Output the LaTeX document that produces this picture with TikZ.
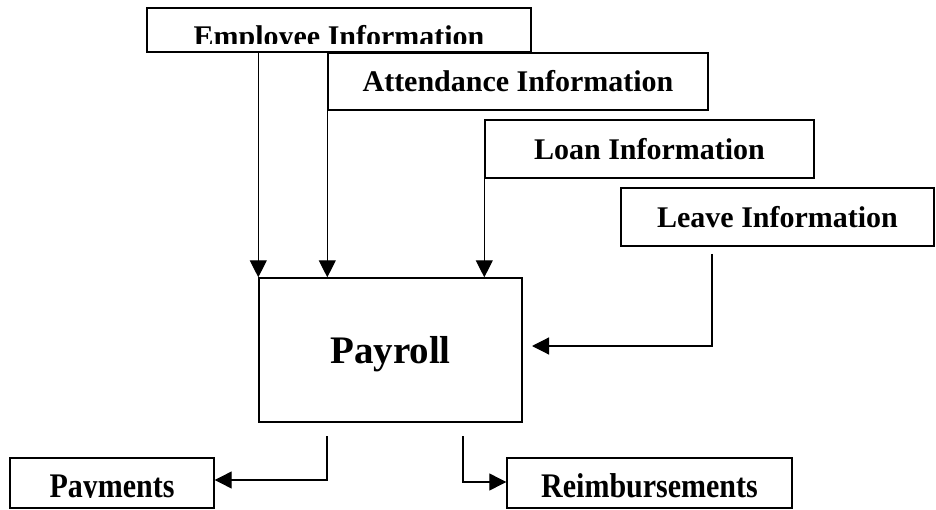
\documentclass[tikz,border=0pt]{standalone}
\usepackage{fontspec}
\setmainfont{Liberation Serif}
\usetikzlibrary{arrows.meta}

\begin{document}
\begin{tikzpicture}[x=1pt,y=-1pt,
  infobox/.style={draw,line width=1.4pt,fill=white,inner sep=0pt,
    font=\bfseries\fontsize{30}{32}\selectfont},
  label/.style={inner sep=0pt,anchor=base,font=\bfseries\fontsize{30}{32}\selectfont},
  arr/.style={line width=1.2pt,-{Triangle[length=17pt,width=17pt]}}]
  \useasboundingbox (0,0) rectangle (936,510);
  % input boxes
  \node[infobox,minimum width=384pt,minimum height=44pt] (emp) at (339,30) {};
  \begin{scope}
    \clip (148,9) rectangle (530,43.5);
    \node[label] (emptext) at (339,47) {Employee Information};
  \end{scope}
  \node[infobox,minimum width=380pt,minimum height=57pt] (att) at (518,81.5) {Attendance Information};
  \node[infobox,minimum width=329pt,minimum height=58pt] (loan) at (649.5,149) {Loan Information};
  \node[infobox,minimum width=313pt,minimum height=58pt] (leave) at (777.5,217) {Leave Information};
  % process
  \node[infobox,minimum width=263pt,minimum height=144pt,text depth=0pt,
    font=\bfseries\fontsize{39}{42}\selectfont] (pay) at (390.5,350) {Payroll};
  % outputs
  \node[infobox,minimum width=204pt,minimum height=50pt] (pmt) at (112,483) {};
  \begin{scope}
    \clip (12,460) rectangle (212,497.5);
    \node[label] (pmttext) at (112,497) {\scalebox{1}[1.15]{Payments}};
  \end{scope}
  \node[infobox,minimum width=285pt,minimum height=50pt] (reimb) at (649.5,483) {};
  \node[label] (reimbtext) at (649.5,497) {\scalebox{1}[1.15]{Reimbursements}};
  \coordinate (lvout) at (712,254);
  \coordinate (lvin) at (532,346);
  \coordinate (pmtout) at (327,436);
  \coordinate (rbout) at (463,436);
  \draw[arr] (emp.south -| pay.north west) -- (pay.north west);
  \draw[arr] (att.south west) -- (att.south west |- pay.north);
  \draw[arr] (loan.south west) -- (loan.south west |- pay.north);
  \draw[arr] (lvout) |- (lvin);
  \draw[arr] (pmtout) |- ([yshift=3pt]pmt.east);
  \draw[arr] (rbout) |- ([yshift=1pt]reimb.west);
\end{tikzpicture}
\end{document}
